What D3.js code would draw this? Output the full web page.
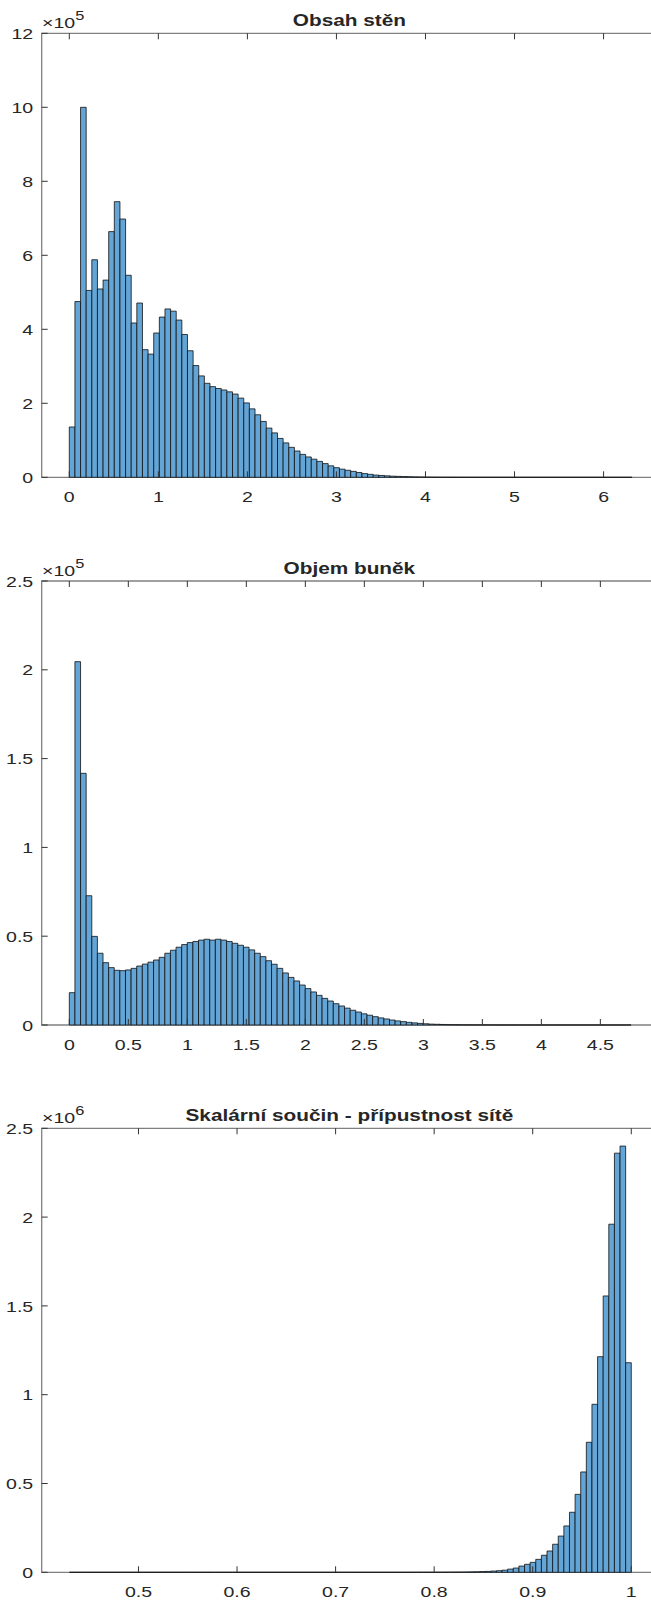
<!DOCTYPE html>
<html>
<head>
<meta charset="utf-8">
<script src="https://cdn.jsdelivr.net/npm/d3@7"></script>
<style>
  body { margin: 0; background: #fff; }
  svg { display: block; }
</style>
</head>
<body>
<script>
// --- data (counts per bin, scaled by the exponent shown) ---

// Obsah sten: 100 bins starting at 0, counts x 1e5
var areaTitle = "Obsah stěn";
var areaStart = 0, areaBinWidth = 0.0632, areaExp = 5;
var areaCounts = [
  1.36, 4.75, 10.0, 5.05, 5.88, 5.09, 5.33, 6.64, 7.45, 6.98,
  5.46, 4.17, 4.71, 3.45, 3.33, 3.90, 4.33, 4.55, 4.49, 4.25,
  3.86, 3.42, 3.02, 2.74, 2.54, 2.45, 2.40, 2.36, 2.31, 2.25,
  2.14, 2.01, 1.85, 1.69, 1.51, 1.33, 1.20, 1.05, 0.93, 0.81,
  0.71, 0.62, 0.55, 0.49, 0.43, 0.37, 0.31, 0.26, 0.22, 0.19,
  0.16, 0.13, 0.10, 0.08, 0.06, 0.05, 0.04, 0.03, 0.025, 0.02,
  0.015, 0.011, 0.008, 0.006, 0.004, 0.003, 0.002, 0.0015, 0.001, 0.0008,
  0.0006, 0.0005, 0.0004, 0.0003, 0.0003, 0.0002, 0.0002, 0.0002, 0.0001, 0.0001,
  0.0001, 0.0001, 0.0001, 0.0001, 0.0001, 0.0001, 0.0001, 0.0001, 0.0001, 0.0001,
  0.0001, 0.0001, 0.0001, 0.0001, 0.0001, 0.0001, 0.0001, 0.0001, 0.0001, 0.0001
];
var areaXLim = [-0.31, 6.6];
var areaXTicks = [0, 1, 2, 3, 4, 5, 6];
var areaYTicks = [0, 2, 4, 6, 8, 10, 12];

// Objem bunek: 100 bins starting at 0, counts x 1e5
var volTitle = "Objem buněk";
var volStart = 0, volBinWidth = 0.0476, volExp = 5;
var volCounts = [
  0.182, 2.046, 1.417, 0.728, 0.499, 0.404, 0.351, 0.323, 0.308, 0.306,
  0.310, 0.319, 0.332, 0.343, 0.354, 0.366, 0.381, 0.404, 0.421, 0.438,
  0.453, 0.464, 0.470, 0.478, 0.483, 0.478, 0.483, 0.478, 0.470, 0.460,
  0.449, 0.438, 0.423, 0.404, 0.385, 0.362, 0.342, 0.319, 0.293, 0.268,
  0.248, 0.225, 0.205, 0.186, 0.167, 0.150, 0.135, 0.120, 0.107, 0.095,
  0.083, 0.073, 0.063, 0.055, 0.047, 0.040, 0.034, 0.028, 0.023, 0.019,
  0.015, 0.012, 0.009, 0.007, 0.005, 0.004, 0.003, 0.002, 0.0015, 0.001,
  0.0008, 0.0006, 0.0005, 0.0004, 0.0003, 0.0003, 0.0002, 0.0002, 0.0002, 0.0001,
  0.0001, 0.0001, 0.0001, 0.0001, 0.0001, 0.0001, 0.0001, 0.0001, 0.0001, 0.0001,
  0.0001, 0.0001, 0.0001, 0.0001, 0.0001, 0.0001, 0.0001, 0.0001, 0.0001, 0.0001
];
var volXLim = [-0.234, 4.98];
var volXTicks = [0, 0.5, 1, 1.5, 2, 2.5, 3, 3.5, 4, 4.5];
var volYTicks = [0, 0.5, 1, 1.5, 2, 2.5];

// Skalarni soucin: 100 bins starting at 0.43, counts x 1e6
var dotTitle = "Skalární součin - přípustnost sítě";
var dotStart = 0.43, dotBinWidth = 0.0057, dotExp = 6;
var dotCounts = [
  0.00005, 0.00005, 0.00005, 0.00005, 0.00005, 0.00005, 0.00005, 0.00005, 0.00005, 0.00005,
  0.00005, 0.00005, 0.00005, 0.00005, 0.00005, 0.00005, 0.00005, 0.00005, 0.00005, 0.00005,
  0.00005, 0.00005, 0.00005, 0.00005, 0.00005, 0.00005, 0.00005, 0.00005, 0.00005, 0.00005,
  0.00005, 0.00005, 0.00005, 0.00005, 0.00005, 0.00005, 0.00005, 0.00005, 0.00005, 0.00005,
  0.00005, 0.00005, 0.00005, 0.00005, 0.00005, 0.00005, 0.00005, 0.00005, 0.00005, 0.00005,
  0.00005, 0.00005, 0.00005, 0.00005, 0.00005, 0.00005, 0.00005, 0.00005, 0.00005, 0.0001,
  0.00012, 0.00015, 0.0002, 0.00025, 0.0003, 0.0004, 0.0005, 0.0007, 0.0009, 0.0012,
  0.0016, 0.0022, 0.003, 0.004, 0.005, 0.007, 0.009, 0.012, 0.018, 0.024,
  0.035, 0.045, 0.056, 0.073, 0.096, 0.120, 0.158, 0.204, 0.261, 0.338,
  0.439, 0.565, 0.732, 0.946, 1.214, 1.556, 1.96, 2.36, 2.40, 1.18
];
var dotXLim = [0.4018, 1.0261];
var dotXTicks = [0.5, 0.6, 0.7, 0.8, 0.9, 1];
var dotYTicks = [0, 0.5, 1, 1.5, 2, 2.5];

// --- layout ---
var W = 651, H = 1603;
var left = 41.7, right = 657, plotH = 444;
var tops = [33.3, 581, 1128.3];
var stretch = 1.26;   // the source figure is stretched horizontally
var font = "'Liberation Sans', Arial, sans-serif";
var tickLen = 6;

var panels = [
  { title: areaTitle, start: areaStart, bw: areaBinWidth, exp: areaExp, counts: areaCounts,
    xlim: areaXLim, xticks: areaXTicks, yticks: areaYTicks },
  { title: volTitle, start: volStart, bw: volBinWidth, exp: volExp, counts: volCounts,
    xlim: volXLim, xticks: volXTicks, yticks: volYTicks },
  { title: dotTitle, start: dotStart, bw: dotBinWidth, exp: dotExp, counts: dotCounts,
    xlim: dotXLim, xticks: dotXTicks, yticks: dotYTicks }
];

var svg = d3.select("body").append("svg")
    .attr("width", W)
    .attr("height", H);

function label(g, x, y, txt, size, anchor, weight) {
  return g.append("text")
      .attr("transform", "translate(" + x + "," + y + ") scale(" + stretch + ",1)")
      .attr("text-anchor", anchor || "start")
      .style("font-family", font)
      .style("font-size", size + "px")
      .style("font-weight", weight || "normal")
      .style("fill", "#262626")
      .text(txt);
}

panels.forEach(function (p, k) {
  var top = tops[k], bottom = top + plotH;
  var x = d3.scaleLinear().domain(p.xlim).range([left, right]);
  var y = d3.scaleLinear().domain([0, d3.max(p.yticks)]).range([bottom, top]);
  var g = svg.append("g");

  // box
  g.append("path")
      .attr("d", "M" + right + "," + top + "H" + left + "V" + bottom + "H" + right)
      .attr("fill", "none")
      .attr("stroke", "#808080")
      .attr("stroke-width", 1.3);

  // bars
  g.selectAll("path.bar")
    .data(p.counts)
    .enter().append("path")
      .attr("class", "bar")
      .attr("d", function (d, i) {
        var x0 = x(p.start + i * p.bw), x1 = x(p.start + (i + 1) * p.bw);
        return "M" + x0 + "," + y(0) + "V" + y(d) + "H" + x1 + "V" + y(0) + "Z";
      })
      .attr("fill", "#62a5d6")
      .attr("stroke", "#111")
      .attr("stroke-width", 0.8);

  // ticks (inward, bottom and top, left)
  p.xticks.forEach(function (t) {
    g.append("line").attr("x1", x(t)).attr("x2", x(t))
        .attr("y1", bottom).attr("y2", bottom - tickLen)
        .attr("stroke", "#333").attr("stroke-width", 1);
    g.append("line").attr("x1", x(t)).attr("x2", x(t))
        .attr("y1", top).attr("y2", top + tickLen)
        .attr("stroke", "#333").attr("stroke-width", 1);
    label(g, x(t), bottom + 25, String(t), 15.5, "middle");
  });
  p.yticks.forEach(function (t) {
    g.append("line").attr("x1", left).attr("x2", left + tickLen)
        .attr("y1", y(t)).attr("y2", y(t))
        .attr("stroke", "#333").attr("stroke-width", 1);
    label(g, left - 8.5, y(t) + 5.6, String(t), 15.5, "end");
  });

  // exponent
  var ex = label(g, 42, top - 5, "×10", 15.5, "start");
  ex.append("tspan").attr("dy", -8).style("font-size", "13px").text(p.exp);

  // title
  label(g, (left + right) / 2, top - 7.5, p.title, 16.5, "middle", "bold");
});
</script>
</body>
</html>
